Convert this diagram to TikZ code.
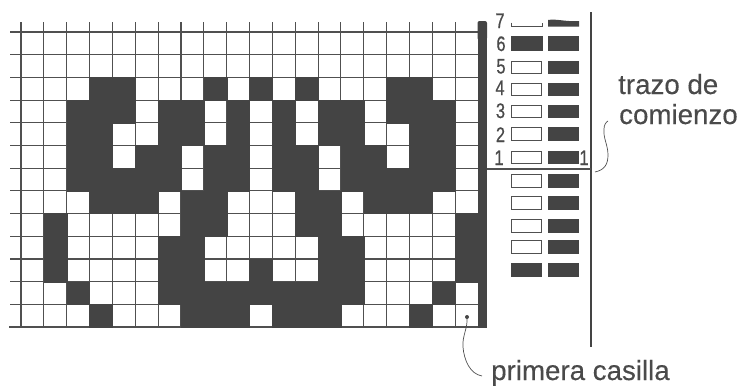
\documentclass[tikz,border=0pt]{standalone}
\usepackage{fontspec}
\setmainfont{Liberation Sans}
\newfontfamily\narrowdigits[FakeStretch=0.78,FakeBold=0.6]{Liberation Sans}
\newfontfamily\captionfont[FakeBold=0.25]{Liberation Sans}
\definecolor{ink}{HTML}{444444}
\definecolor{gridink}{HTML}{505050}
\definecolor{textink}{HTML}{4A4A4A}
\tikzset{
  gridline/.style={draw=gridink,line width=1.1pt},
  cellfill/.style={fill=ink,draw=ink,line width=.3pt},
  openbar/.style={draw=gridink,line width=1pt,fill=white},
  solidbar/.style={fill=ink,draw=ink,line width=.5pt},
  railline/.style={draw=ink,line width=1.2pt},
  leader/.style={draw=gridink,line width=.7pt},
  digit/.style={font=\narrowdigits\fontsize{21}{21}\selectfont,text=textink,inner sep=0pt,anchor=base},
  caption/.style={font=\captionfont\fontsize{27.7}{28}\selectfont,text=textink,inner sep=0pt,anchor=base west},
}
\newcommand{\cx}[1]{21+22.85*(#1)}
\newcommand{\ry}[1]{32+22.7*(#1)}
\begin{document}
\begin{tikzpicture}[x=1pt,y=-1pt]
\useasboundingbox (0,0) rectangle (739,386);
% grid lines
\foreach \c in {0,...,19} \draw[gridline] ({\cx{\c}},22) -- ({\cx{\c}},327);
\foreach \r in {0,...,12} \draw[gridline] (10,{\ry{\r}}) -- (478,{\ry{\r}});
\draw[gridline] (9,327) -- (487,327);
% dark cells
\foreach \r/\cols in {
  2/{3,4,8,10,12,16,17},
  3/{2,3,4,6,7,9,11,13,14,16,17,18},
  4/{2,3,6,7,9,11,13,14,17,18},
  5/{2,3,5,6,8,9,11,12,14,15,17,18},
  6/{2,3,4,5,6,8,9,11,12,14,15,16,17,18},
  7/{3,4,5,7,8,12,13,15,16,17},
  8/{1,7,8,12,13,19},
  9/{1,6,7,13,14,19},
  10/{1,6,7,10,13,14,19},
  11/{2,6,7,8,9,10,11,12,13,14,18},
  12/{3,7,8,9,11,12,13,17}}
{ \foreach \c in \cols
  \fill[cellfill] ({\cx{\c}},{\ry{\r}}) rectangle ({\cx{\c+1}},{\ry{\r+1}}); }
% right thick column
\fill[ink,rounded corners=2pt] (477.5,21) rectangle (487,40);
\fill[ink] (477.5,30) rectangle (487,327.5);
% rails
\coordinate (railA) at (487,169);
\coordinate (railB) at (591,169);
\coordinate (vtop) at (591,12);
\coordinate (vbot) at (591,347);
\draw[railline] (vtop) -- (vbot);
\draw[gridline] (railA) -- (railB);
% bars
\draw[draw=gridink,line width=1pt] (511,22.5) -- (511,26) -- (542,26) -- (542,22.5);
\fill[ink] (548,20) .. controls (556,18.5) and (566,22) .. (579,21) -- (579,26.5) -- (548,26.5) -- cycle;
\fill[solidbar] (511,36) rectangle (542,50);
\fill[solidbar] (548,36) rectangle (578,50);
\foreach \t/\b in {61/73,83/95,105/117,127/140,151/163,174/187,196/209,219/232,240/253}{
  \draw[openbar] (511.5,\t) rectangle (541.5,\b);
  \fill[solidbar] (548.5,\t) rectangle (578.5,\b);
}
\fill[solidbar] (511.5,263.5) rectangle (541.5,276.5);
\fill[solidbar] (548.5,263.5) rectangle (578.5,276.5);
% digits
\node[digit] (d7) at (500,28) {7};
\node[digit] (d6) at (501,51) {6};
\node[digit] (d5) at (501,73.5) {5};
\node[digit] (d4) at (500,95) {4};
\node[digit] (d3) at (500.5,118) {3};
\node[digit] (d2) at (500.5,142) {2};
\node[digit] (d1) at (499,165) {1};
\node[digit] (dr) at (584,165) {1};
% captions
\node[caption] (trazo) at (618,94) {trazo de};
\node[caption] (comienzo) at (619,124) {comienzo};
\node[caption] (primera) at (491,380) {primera casilla};
% leaders
\coordinate (braceA) at (595,172);
\coordinate (braceB) at (608,121);
\draw[leader] (braceA) .. controls (604,170) and (608,165) .. (608,155)
   .. controls (608,145) and (603,138) .. (604,129) .. controls (604,125) and (606,122) .. (braceB);
\coordinate (firstcell) at (467,317);
\coordinate (firstend) at (482,376);
\fill[ink] (firstcell) circle (2pt);
\draw[leader] (firstcell) .. controls (468,328) and (462,336) .. (463,347)
   .. controls (464,360) and (470,374) .. (firstend);
\end{tikzpicture}
\end{document}
